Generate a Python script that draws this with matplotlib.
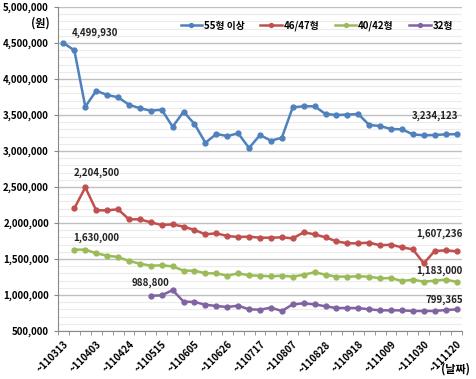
import numpy as np
import matplotlib
matplotlib.use('Agg')
import matplotlib.pyplot as plt
from matplotlib.ticker import FuncFormatter, MultipleLocator

plt.rcParams['font.family'] = ['Noto Sans CJK KR', 'DejaVu Sans']

dates = ['110313', '110320', '110327', '110403', '110410', '110417', '110424',
         '110501', '110508', '110515', '110522', '110529', '110605', '110612',
         '110619', '110626', '110703', '110710', '110717', '110724', '110731',
         '110807', '110814', '110821', '110828', '110904', '110911', '110918',
         '110925', '111002', '111009', '111016', '111023', '111030', '111106',
         '111113', '111120']

s55 = [4499930, 4397000, 3615000, 3837000, 3778000, 3746000, 3643000, 3593000,
       3560000, 3574000, 3337000, 3546000, 3375000, 3115000, 3236000, 3208000,
       3245000, 3042000, 3222000, 3143000, 3185000, 3607000, 3621000, 3621000,
       3514000, 3500000, 3505000, 3514000, 3361000, 3347000, 3305000, 3301000,
       3231000, 3218000, 3222000, 3231000, 3234123]
s46 = [None, 2204500, 2495000, 2176000, 2176000, 2190000, 2051000, 2051000,
       2009000, 1972000, 1981000, 1949000, 1903000, 1843000, 1857000, 1819000,
       1806000, 1810000, 1796000, 1796000, 1801000, 1787000, 1870000, 1843000,
       1801000, 1745000, 1718000, 1718000, 1727000, 1690000, 1699000, 1662000,
       1634000, 1440000, 1611000, 1620000, 1607236]
s40 = [None, 1630000, 1630000, 1579000, 1546000, 1528000, 1472000, 1435000,
       1407000, 1412000, 1398000, 1338000, 1338000, 1301000, 1301000, 1268000,
       1301000, 1273000, 1268000, 1259000, 1268000, 1255000, 1282000, 1315000,
       1282000, 1255000, 1255000, 1259000, 1255000, 1231000, 1236000, 1194000,
       1213000, 1185000, 1199000, 1213000, 1183000]
s32 = [None] * 8 + [988800, 995000, 1069000, 907000, 903000, 865000, 847000,
       833000, 852000, 801000, 796000, 824000, 778000, 870000, 884000, 870000,
       843000, 819000, 819000, 819000, 801000, 787000, 787000, 787000, 778000,
       778000, 778000, 792000, 799365]

names = ['55형 이상', '46/47형', '40/42형', '32형']
colors = ['#4F81BD', '#C0504D', '#9BBB59', '#8064A2']
series = [s55, s46, s40, s32]

# (series index, point index, offset px)
notes = [(0, 0, (31, 10)), (0, 36, (-22, 18)),
         (1, 1, (22, 35)), (1, 36, (-17, 17)),
         (2, 1, (22, 12)), (2, 36, (-17, 11)),
         (3, 8, (0, 13)), (3, 36, (-12, 10))]

fig = plt.figure(figsize=(4.76, 3.79), dpi=100)
ax = fig.add_axes([58 / 476, 1 - 331 / 379, 404 / 476, 324 / 379])

x = np.arange(len(dates))
for s, c, n in zip(series, colors, names):
    y = np.array([np.nan if v is None else v for v in s], dtype=float)
    ax.plot(x, y, color=c, lw=1.8, marker='o', ms=3.5, label=n, zorder=3)

for si, pi, off in notes:
    v = series[si][pi]
    ax.annotate(f'{v:,}', xy=(pi, v), xytext=off, textcoords='offset pixels',
                ha='center', va='center', fontsize=7, fontweight='bold',
                color='#222222')

ax.set_xlim(-0.5, len(dates) - 0.5)
ax.set_ylim(500000, 5000000)
ax.yaxis.set_major_locator(MultipleLocator(500000))
ax.yaxis.set_minor_locator(MultipleLocator(100000))
ax.yaxis.set_major_formatter(FuncFormatter(lambda v, p: f'{int(v):,}'))
ax.grid(axis='y', which='major', color='#C0C0C0', lw=1.0)
ax.grid(axis='y', which='minor', color='#EBEBEB', lw=0.8)
ax.set_axisbelow(True)

ax.set_xticks(x[::3])
ax.set_xticklabels(['~' + d for d in dates[::3]], rotation=45, ha='right',
                   rotation_mode='anchor', fontsize=7, fontweight='bold')
ax.set_xticks(np.arange(-0.5, len(dates)), minor=True)
ax.tick_params(axis='x', which='major', length=0, pad=6)
ax.tick_params(axis='x', which='minor', length=3, color='#888888')
ax.tick_params(axis='y', which='major', length=3, color='#888888', labelsize=7)
ax.tick_params(axis='y', which='minor', length=0)
for lab in ax.get_yticklabels():
    lab.set_fontweight('bold')

for sp in ['top', 'right']:
    ax.spines[sp].set_visible(False)
for sp in ['left', 'bottom']:
    ax.spines[sp].set_color('#888888')
    ax.spines[sp].set_linewidth(0.8)

fig.text(40 / 476, 1 - 23 / 379, '(원)', ha='center', va='center',
         fontsize=8, fontweight='bold')
fig.text(455 / 476, 1 - 369 / 379, '(날짜)', ha='center', va='center',
         fontsize=8, fontweight='bold')

leg = ax.legend(loc='upper right', bbox_to_anchor=(1.0, 0.985), ncol=4,
                frameon=False, fontsize=7, handlelength=2.2, handletextpad=0.2,
                columnspacing=1.6, markerscale=0.8)
for t in leg.get_texts():
    t.set_fontweight('bold')

fig.savefig('out.png', dpi=100)
